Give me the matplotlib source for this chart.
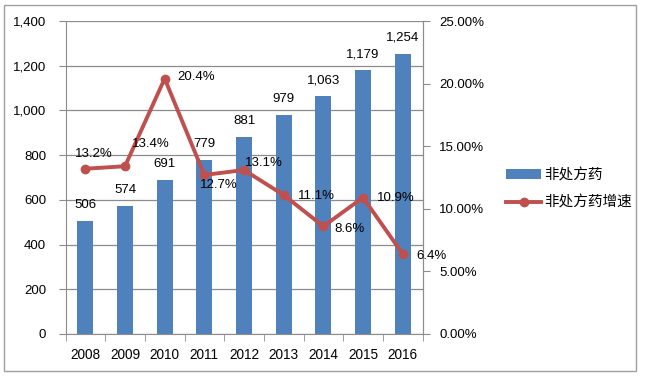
import matplotlib
matplotlib.use("Agg")
import matplotlib.pyplot as plt
from matplotlib.patches import Rectangle
from matplotlib.ticker import FuncFormatter, MultipleLocator, FixedLocator
import numpy as np

plt.rcParams['font.family'] = ['Liberation Sans', 'DejaVu Sans', 'Noto Sans CJK SC']

years = ['2008', '2009', '2010', '2011', '2012', '2013', '2014', '2015', '2016']
sales = [506, 574, 691, 779, 881, 979, 1063, 1179, 1254]
growth = [13.2, 13.4, 20.4, 12.7, 13.1, 11.1, 8.6, 10.9, 6.4]
bar_name = '非处方药'
line_name = '非处方药增速'

bar_color = '#4F81BD'
line_color = '#C0504D'
grid_color = '#8C8C8C'

W, H = 645, 378
fig = plt.figure(figsize=(W / 100, H / 100), dpi=100)
fig.patches.append(Rectangle((3.5 / W, 7 / H), 632 / W, 366 / H, transform=fig.transFigure,
                             fill=False, edgecolor='#A0A0A0', linewidth=1.0))
ax = fig.add_axes([65.5 / W, (H - 334) / H, 357 / W, 313 / H])
x = np.arange(len(years))
ax.bar(x, sales, width=0.40, color=bar_color, zorder=2, label=bar_name)
ax.set_xlim(-0.5, len(years) - 0.5)
ax.set_ylim(0, 1400)
ax.yaxis.set_major_locator(MultipleLocator(200))
ax.yaxis.set_major_formatter(FuncFormatter(lambda v, p: f'{int(v):,}'))
ax.grid(axis='y', color=grid_color, linewidth=0.9, zorder=0)
ax.set_xticks(x)
ax.set_xticklabels(years)
ax.xaxis.set_minor_locator(FixedLocator(np.arange(-0.5, len(years), 1.0)))
ax.tick_params(axis='x', which='major', length=0, labelsize=9.8, pad=10)
ax.tick_params(axis='x', which='minor', length=5, color=grid_color, direction='out')
ax.tick_params(axis='y', length=5, color=grid_color, labelsize=9.5, pad=9)
ax.spines['top'].set_visible(False)
for s in ['left', 'bottom', 'right']:
    ax.spines[s].set_color(grid_color)

px = 0.72  # points per pixel
for xi, v in zip(x, sales):
    ax.annotate(f'{v:,}', (xi, v), xytext=(0, 16 * px), textcoords='offset points',
                ha='center', va='center', fontsize=9.5, zorder=5)

ax2 = ax.twinx()
ax2.set_ylim(0, 25)
ax2.yaxis.set_major_locator(MultipleLocator(5))
ax2.yaxis.set_major_formatter(FuncFormatter(lambda v, p: f'{v:.2f}%'))
ax2.tick_params(axis='y', length=5, color=grid_color, labelsize=9.5, pad=7)
for s in ['top', 'left', 'bottom']:
    ax2.spines[s].set_visible(False)
ax2.spines['right'].set_color(grid_color)
ax2.plot(x, growth, color=line_color, linewidth=2.8, marker='o', markersize=6, zorder=4,
         label=line_name)

# label offsets in pixels (dx, dy up), left edge of text
offsets = [(-10, 15), (7, 22), (13, 2), (-4, -10), (1, 7), (14, -1), (11, -3), (14, 0), (14, -2)]
for xi, v, (dx, dy) in zip(x, growth, offsets):
    ax2.annotate(f'{v:.1f}%', (xi, v), xytext=(dx * px, dy * px), textcoords='offset points',
                 ha='left', va='center', fontsize=9.5, zorder=6)

h1, l1 = ax.get_legend_handles_labels()
h2, l2 = ax2.get_legend_handles_labels()
fig.legend(h1 + h2, l1 + l2, loc='center left', bbox_to_anchor=(493 / W, 1 - 189 / H),
           frameon=False, handlelength=2.4, handletextpad=0.2, labelspacing=0.9,
           prop={'family': ['Noto Sans CJK SC', 'DejaVu Sans'], 'size': 10.5})

fig.savefig('out.png', dpi=100)
